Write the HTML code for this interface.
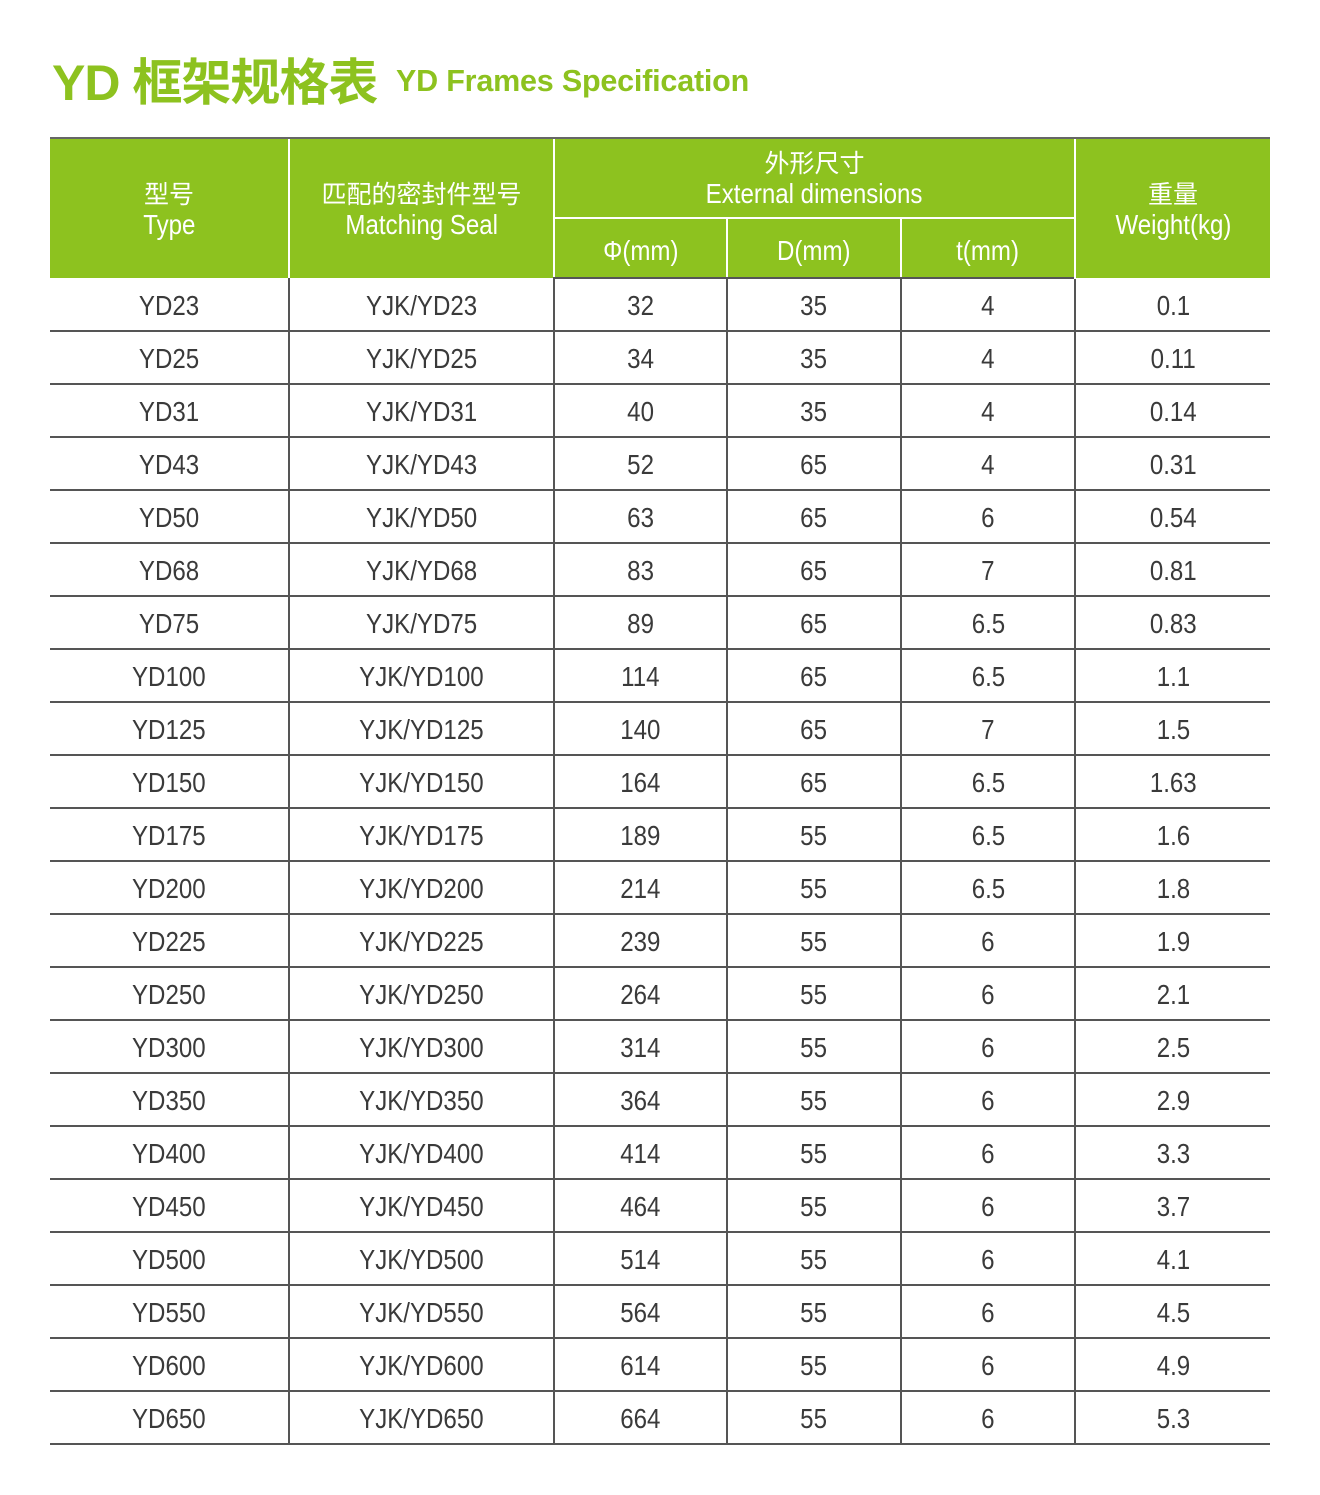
<!DOCTYPE html>
<html><head><meta charset="utf-8"><style>
body{margin:0;width:1320px;height:1495px;background:#fff;position:relative;overflow:hidden;font-family:"Liberation Sans","Noto Sans CJK SC",sans-serif;}
.t1{position:absolute;left:52px;top:43px;font-family:"Liberation Sans","Noto Sans CJK SC",sans-serif;font-weight:bold;color:#8dc21f;font-size:50px;white-space:nowrap;letter-spacing:-1px}
.t2{position:absolute;left:396px;top:64px;font-family:"Liberation Sans",sans-serif;font-weight:bold;color:#8dc21f;font-size:30.5px;white-space:nowrap;letter-spacing:-0.2px}
table{position:absolute;left:50px;top:137px;width:1220px;border-collapse:collapse;table-layout:fixed}
td{text-align:center;padding:0;font-size:28px;color:#3a3a3a;border-bottom:2px solid #555;border-left:2px solid #555;height:48px;line-height:1;padding-top:3px}
td:first-child{border-left:none}
th{background:#8dc21f;color:#fff;font-weight:normal;font-size:28px;line-height:31px;padding:0;border-left:2px solid #fff;border-top:2px solid #666}
th.f{border-left:none}
tr.h2 th{border-top:2px solid #fff;height:54px;padding-top:4px}
tr.h1 th{height:78px}
thead tr.h2 th{border-bottom:2px solid #555}
.cj{font-family:"Noto Sans CJK SC",sans-serif;font-size:25px}
s{text-decoration:none;display:inline-block;transform:scaleX(0.86);white-space:nowrap}
</style></head><body>
<div class="t1">YD 框架规格表</div>
<div class="t2">YD Frames Specification</div>
<table>
<colgroup><col style="width:239px"><col style="width:265px"><col style="width:173px"><col style="width:174px"><col style="width:174px"><col style="width:195px"></colgroup>
<thead>
<tr class="h1"><th class="f" rowspan="2"><span class="cj">型号</span><br><s>Type</s></th><th rowspan="2"><span class="cj">匹配的密封件型号</span><br><s>Matching Seal</s></th><th colspan="3"><span class="cj">外形尺寸</span><br><s>External dimensions</s></th><th rowspan="2"><span class="cj">重量</span><br><s>Weight(kg)</s></th></tr>
<tr class="h2"><th><s>Φ(mm)</s></th><th><s>D(mm)</s></th><th><s>t(mm)</s></th></tr>
</thead>
<tbody>
<tr><td><s>YD23</s></td><td><s>YJK/YD23</s></td><td><s>32</s></td><td><s>35</s></td><td><s>4</s></td><td><s>0.1</s></td></tr>
<tr><td><s>YD25</s></td><td><s>YJK/YD25</s></td><td><s>34</s></td><td><s>35</s></td><td><s>4</s></td><td><s>0.11</s></td></tr>
<tr><td><s>YD31</s></td><td><s>YJK/YD31</s></td><td><s>40</s></td><td><s>35</s></td><td><s>4</s></td><td><s>0.14</s></td></tr>
<tr><td><s>YD43</s></td><td><s>YJK/YD43</s></td><td><s>52</s></td><td><s>65</s></td><td><s>4</s></td><td><s>0.31</s></td></tr>
<tr><td><s>YD50</s></td><td><s>YJK/YD50</s></td><td><s>63</s></td><td><s>65</s></td><td><s>6</s></td><td><s>0.54</s></td></tr>
<tr><td><s>YD68</s></td><td><s>YJK/YD68</s></td><td><s>83</s></td><td><s>65</s></td><td><s>7</s></td><td><s>0.81</s></td></tr>
<tr><td><s>YD75</s></td><td><s>YJK/YD75</s></td><td><s>89</s></td><td><s>65</s></td><td><s>6.5</s></td><td><s>0.83</s></td></tr>
<tr><td><s>YD100</s></td><td><s>YJK/YD100</s></td><td><s>114</s></td><td><s>65</s></td><td><s>6.5</s></td><td><s>1.1</s></td></tr>
<tr><td><s>YD125</s></td><td><s>YJK/YD125</s></td><td><s>140</s></td><td><s>65</s></td><td><s>7</s></td><td><s>1.5</s></td></tr>
<tr><td><s>YD150</s></td><td><s>YJK/YD150</s></td><td><s>164</s></td><td><s>65</s></td><td><s>6.5</s></td><td><s>1.63</s></td></tr>
<tr><td><s>YD175</s></td><td><s>YJK/YD175</s></td><td><s>189</s></td><td><s>55</s></td><td><s>6.5</s></td><td><s>1.6</s></td></tr>
<tr><td><s>YD200</s></td><td><s>YJK/YD200</s></td><td><s>214</s></td><td><s>55</s></td><td><s>6.5</s></td><td><s>1.8</s></td></tr>
<tr><td><s>YD225</s></td><td><s>YJK/YD225</s></td><td><s>239</s></td><td><s>55</s></td><td><s>6</s></td><td><s>1.9</s></td></tr>
<tr><td><s>YD250</s></td><td><s>YJK/YD250</s></td><td><s>264</s></td><td><s>55</s></td><td><s>6</s></td><td><s>2.1</s></td></tr>
<tr><td><s>YD300</s></td><td><s>YJK/YD300</s></td><td><s>314</s></td><td><s>55</s></td><td><s>6</s></td><td><s>2.5</s></td></tr>
<tr><td><s>YD350</s></td><td><s>YJK/YD350</s></td><td><s>364</s></td><td><s>55</s></td><td><s>6</s></td><td><s>2.9</s></td></tr>
<tr><td><s>YD400</s></td><td><s>YJK/YD400</s></td><td><s>414</s></td><td><s>55</s></td><td><s>6</s></td><td><s>3.3</s></td></tr>
<tr><td><s>YD450</s></td><td><s>YJK/YD450</s></td><td><s>464</s></td><td><s>55</s></td><td><s>6</s></td><td><s>3.7</s></td></tr>
<tr><td><s>YD500</s></td><td><s>YJK/YD500</s></td><td><s>514</s></td><td><s>55</s></td><td><s>6</s></td><td><s>4.1</s></td></tr>
<tr><td><s>YD550</s></td><td><s>YJK/YD550</s></td><td><s>564</s></td><td><s>55</s></td><td><s>6</s></td><td><s>4.5</s></td></tr>
<tr><td><s>YD600</s></td><td><s>YJK/YD600</s></td><td><s>614</s></td><td><s>55</s></td><td><s>6</s></td><td><s>4.9</s></td></tr>
<tr><td><s>YD650</s></td><td><s>YJK/YD650</s></td><td><s>664</s></td><td><s>55</s></td><td><s>6</s></td><td><s>5.3</s></td></tr>
</tbody></table>
</body></html>
